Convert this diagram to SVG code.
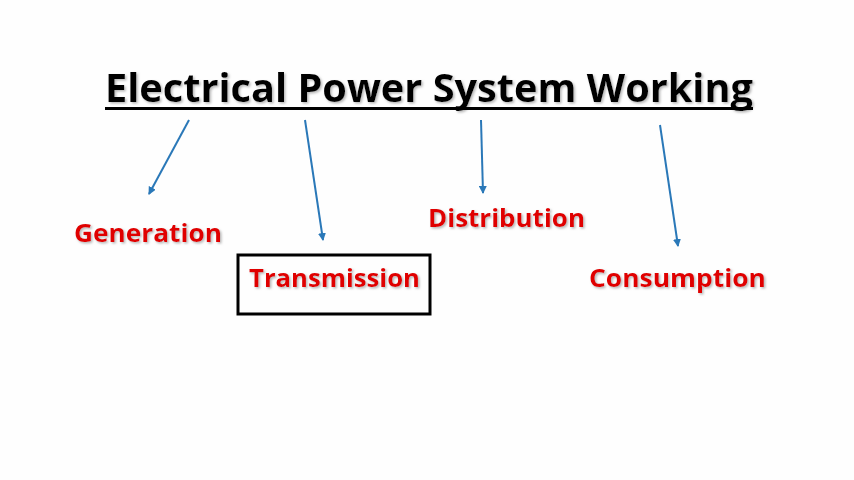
<svg xmlns="http://www.w3.org/2000/svg" width="854" height="480" viewBox="0 0 854 480">
<style>
.t{font-family:"Open Sans","Liberation Sans",sans-serif;font-weight:bold;filter:url(#s)}
.lbl{font-size:25px;fill:#e00000}
.c{stroke:#2a78b8;stroke-width:2;fill:none;marker-end:url(#a)}
</style>
<defs>
<marker id="a" markerWidth="8" markerHeight="8" refX="7" refY="4" orient="auto" markerUnits="userSpaceOnUse"><path d="M0,0 L8,4 L0,8 Z" fill="#2a78b8"/></marker>
<filter id="s" x="-5%" y="-20%" width="110%" height="140%"><feDropShadow dx="1.5" dy="1.5" stdDeviation="0.8" flood-color="#999" flood-opacity="0.7"/></filter>
</defs>
<rect width="854" height="480" fill="#fefefe"/>
<g id="title">
<text class="t" x="105" y="102" font-size="40" textLength="648" lengthAdjust="spacingAndGlyphs" fill="#000">Electrical Power System Working</text>
<line x1="105" y1="108.5" x2="753" y2="108.5" stroke="#000" stroke-width="3"/>
</g>
<g id="connectors">
<line class="c" x1="189" y1="120" x2="149" y2="194"/>
<line class="c" x1="305" y1="120" x2="323" y2="240"/>
<line class="c" x1="481" y1="120" x2="483" y2="193"/>
<line class="c" x1="660" y1="125" x2="678" y2="246"/>
</g>
<g id="generation">
<text class="t lbl" x="74" y="242" textLength="148" lengthAdjust="spacingAndGlyphs">Generation</text>
</g>
<g id="transmission">
<rect x="238" y="255" width="192" height="59" fill="none" stroke="#000" stroke-width="3"/>
<text class="t lbl" x="249" y="287" textLength="171" lengthAdjust="spacingAndGlyphs">Transmission</text>
</g>
<g id="distribution">
<text class="t lbl" x="428" y="227" textLength="157" lengthAdjust="spacingAndGlyphs">Distribution</text>
</g>
<g id="consumption">
<text class="t lbl" x="589" y="287" textLength="177" lengthAdjust="spacingAndGlyphs">Consumption</text>
</g>
</svg>
